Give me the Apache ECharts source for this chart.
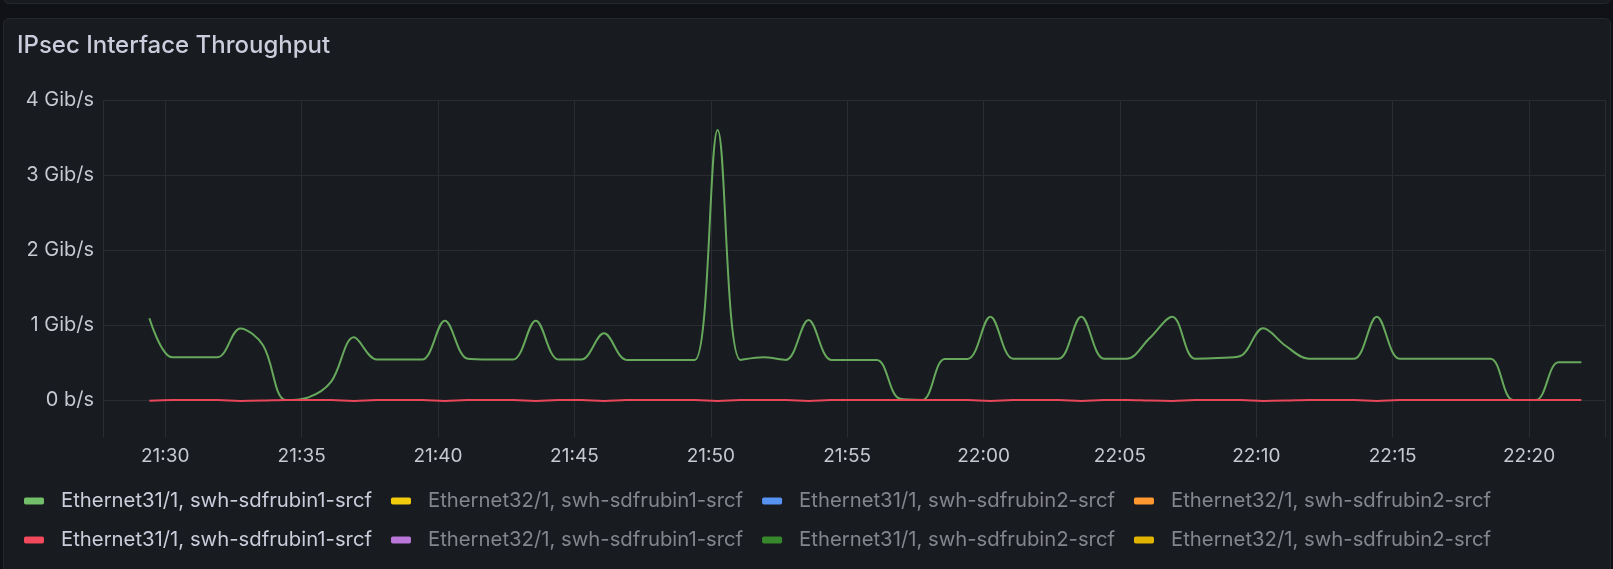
<!DOCTYPE html>
<html>
<head>
<meta charset="utf-8">
<title>IPsec Interface Throughput</title>
<script src="https://cdn.jsdelivr.net/npm/echarts@6/dist/echarts.min.js"></script>
<style>
    html, body {
        margin: 0;
        padding: 0;
        width: 1613px;
        height: 569px;
        overflow: hidden;
        background: #111217;
    }
    .prev-panel {
        position: absolute;
        left: 3px;
        right: 2px;
        top: -20px;
        height: 22px;
        background: #181b1f;
        border: 1px solid #25272d;
        border-radius: 6px;
    }
    .panel {
        position: absolute;
        left: 3px;
        right: 2px;
        top: 18px;
        height: 580px;
        background: #181b1f;
        border: 1px solid #25272d;
        border-radius: 6px;
    }
    #chart {
        position: absolute;
        left: 0;
        top: 0;
        width: 1613px;
        height: 569px;
    }
</style>
</head>
<body>
<div class="prev-panel"></div>
<div class="panel"></div>
<div id="chart"></div>
<script>
    const panelTitle = 'IPsec Interface Throughput';

    // samples every 50s starting 21:29:25
    const startTime = new Date(2024, 0, 1, 21, 29, 25).getTime();
    const stepMs = 50 * 1000;
    // visible time range of the panel
    const axisStart = new Date(2024, 0, 1, 21, 27, 43).getTime();
    const axisEnd = new Date(2024, 0, 1, 22, 22, 47).getTime();

    // Gib/s
    const rubin1Eth31Green = [
        1.09, 0.57, 0.57, 0.57, 0.955, 0.73, 0.0, 0.035, 0.245, 0.836,
        0.54, 0.54, 0.54, 1.057, 0.55, 0.54, 0.54, 1.057, 0.54, 0.54,
        0.889, 0.535, 0.535, 0.535, 0.535, 3.6, 0.535, 0.569, 0.535, 1.067,
        0.535, 0.535, 0.535, 0.02, 0.0, 0.547, 0.547, 1.111, 0.551, 0.551,
        0.551, 1.111, 0.551, 0.551, 0.822, 1.111, 0.551, 0.56, 0.587, 0.956,
        0.72, 0.551, 0.551, 0.551, 1.111, 0.551, 0.551, 0.551, 0.551, 0.551,
        0.0, 0.0, 0.503, 0.503
    ];
    const rubin1Eth31Red = [
        -0.01, 0, 0, 0, -0.012, -0.008, 0, 0, 0, -0.012,
        0, 0, 0, -0.012, 0, 0, 0, -0.012, 0, 0,
        -0.012, 0, 0, 0, 0, -0.012, 0, 0, 0, -0.012,
        0, 0, 0, 0, 0, 0, 0, -0.012, 0, 0,
        0, -0.012, 0, 0, -0.008, -0.012, 0, 0, 0, -0.012,
        -0.008, 0, 0, 0, -0.012, 0, 0, 0, 0, 0,
        0, 0, 0, 0
    ];

    const legendNames = [
        'Ethernet31/1, swh-sdfrubin1-srcf',
        'Ethernet32/1, swh-sdfrubin1-srcf',
        'Ethernet31/1, swh-sdfrubin2-srcf',
        'Ethernet32/1, swh-sdfrubin2-srcf',
        'Ethernet31/1, swh-sdfrubin1-srcf ',
        'Ethernet32/1, swh-sdfrubin1-srcf ',
        'Ethernet31/1, swh-sdfrubin2-srcf ',
        'Ethernet32/1, swh-sdfrubin2-srcf '
    ];
    const legendColors = ['#73BF69', '#F2CC0C', '#5794F2', '#FF9830', '#F2495C', '#B877D9', '#37872D', '#E0B400'];
    const lineColors = ['#67a95c', '#F2CC0C', '#5794F2', '#FF9830', '#e8475a', '#B877D9', '#37872D', '#E0B400'];
    // only these two series are visible in the panel, rest are toggled off
    const seriesValues = [rubin1Eth31Green, [], [], [], rubin1Eth31Red, [], [], []];

    const fontFamily = 'Inter, "Noto Sans", sans-serif';
    const labelColor = '#c7c8d0';
    const gridColor = '#2a2c32';

    const chart = echarts.init(document.getElementById('chart'), null, { renderer: 'canvas' });

    const series = legendNames.map((name, idx) => ({
        name: name,
        type: 'line',
        data: seriesValues[idx].map((v, i) => [startTime + i * stepMs, v]),
        showSymbol: false,
        smooth: 0.35,
        color: legendColors[idx],
        lineStyle: { width: 2, color: lineColors[idx] },
        emphasis: { disabled: true }
    }));

    const option = {
        backgroundColor: 'transparent',
        animation: false,
        textStyle: { fontFamily: fontFamily },
        title: {
            text: panelTitle,
            left: 17,
            top: 34,
            padding: 0,
            textStyle: { color: '#ccccdc', fontSize: 24, fontWeight: 500, lineHeight: 24, fontFamily: fontFamily }
        },
        grid: { left: 103, right: 8, top: 100, bottom: 131.5, containLabel: false },
        xAxis: {
            type: 'time',
            min: axisStart,
            max: axisEnd,
            splitNumber: 11,
            axisLine: { show: false },
            axisTick: { show: false },
            splitLine: { show: true, lineStyle: { color: gridColor, width: 1 } },
            axisLabel: {
                color: labelColor,
                fontSize: 19,
                margin: 9,
                fontFamily: fontFamily,
                formatter: '{HH}:{mm}',
                showMinLabel: false,
                showMaxLabel: false
            }
        },
        yAxis: {
            type: 'value',
            min: -0.5,
            max: 4,
            interval: 0.5,
            axisLine: { show: false },
            axisTick: { show: false },
            splitLine: { show: true, lineStyle: { color: ['transparent', gridColor], width: 1 } },
            axisLabel: {
                color: labelColor,
                fontSize: 20,
                margin: 9,
                fontFamily: fontFamily,
                formatter: function (v) {
                    if (v < 0 || Math.abs(v - Math.round(v)) > 1e-6) return '';
                    return v === 0 ? '0 b/s' : Math.round(v) + ' Gib/s';
                }
            }
        },
        legend: {
            left: 24,
            top: 491,
            width: 1580,
            padding: 0,
            itemGap: 19,
            itemWidth: 20,
            itemHeight: 7,
            icon: 'roundRect',
            formatter: name => name.trim(),
            textStyle: { fontSize: 20.3, lineHeight: 19, color: '#ccccdc', padding: [0, 0, 0, 12], fontFamily: fontFamily },
            data: legendNames.map((name, idx) => ({
                name: name,
                textStyle: { color: (idx === 0 || idx === 4) ? '#ccccdc' : '#84858d' }
            }))
        },
        series: series
    };

    chart.setOption(option, true);
</script>
</body>
</html>
